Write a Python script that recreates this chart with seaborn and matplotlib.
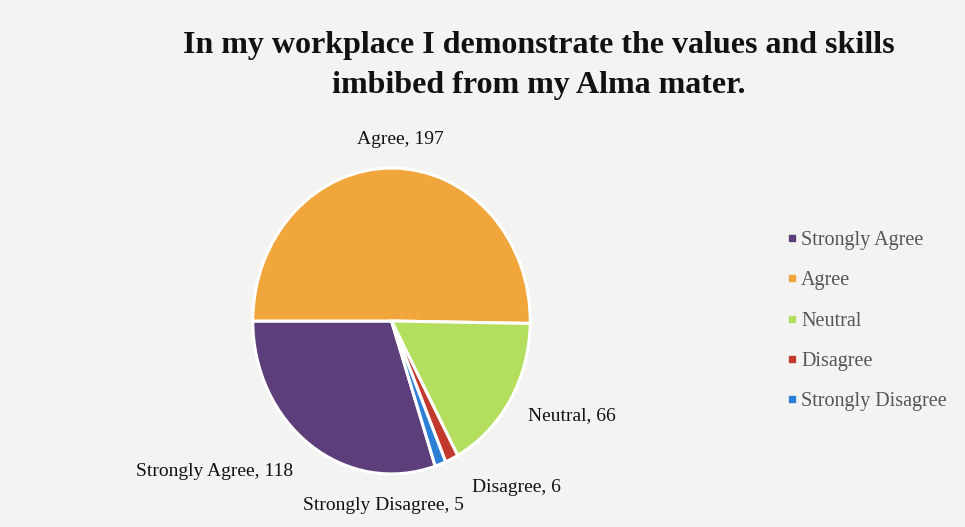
import matplotlib
matplotlib.use("Agg")
import matplotlib.pyplot as plt
import seaborn as sns
from matplotlib.lines import Line2D

categories = ["Strongly Agree", "Agree", "Neutral", "Disagree", "Strongly Disagree"]
counts = [118, 197, 66, 6, 5]
slice_colors = ["#5c3f7a", "#f1a63c", "#b4de5e", "#c23a2e", "#2b7fd6"]
title = "In my workplace I demonstrate the values and skills\nimbibed from my Alma mater."

sns.set_theme(style="white")
plt.rcParams["font.family"] = ["Liberation Serif", "DejaVu Serif"]

W, H = 965, 527
fig = plt.figure(figsize=(W / 100, H / 100), dpi=100)
fig.patch.set_facecolor("#f3f3f1")

palette = sns.color_palette(slice_colors)

# pie sits in its own axes; aspect left free so it is drawn slightly taller than wide
ax = fig.add_axes([250 / W, (H - 477) / H, 283 / W, 312 / H])
ax.set_facecolor("none")
total = sum(counts)
start = 180 + 360 * counts[0] / total
wedges, _ = ax.pie(counts, colors=palette, startangle=start, counterclock=False,
                   wedgeprops=dict(edgecolor="white", linewidth=2.2))
ax.set_aspect("auto")
ax.set_xlim(-1.02, 1.02)
ax.set_ylim(-1.02, 1.02)
ax.axis("off")

# data labels
label_pos = {
    "Agree": (400, 140, "center"),
    "Neutral": (572, 416, "center"),
    "Disagree": (516, 487, "center"),
    "Strongly Disagree": (383, 506, "center"),
    "Strongly Agree": (215, 472, "center"),
}
for cat, val in zip(categories, counts):
    x, y, ha = label_pos[cat]
    fig.text(x / W, 1 - y / H, f"{cat}, {val}", ha=ha, va="center",
             fontsize=14, color="#111111")

fig.text(539 / W, 1 - 66 / H, title, ha="center", va="center", fontsize=23,
         fontweight="bold", color="#111111", linespacing=1.5)

handles = [Line2D([0], [0], marker="s", linestyle="none", markersize=4,
                  markerfacecolor=c, markeredgecolor=c) for c in palette]
leg = fig.legend(handles, categories, loc="upper left",
                 bbox_to_anchor=(768 / W, 1 - 213 / H), frameon=False,
                 fontsize=14.5, labelspacing=1.05, handletextpad=0.15,
                 handlelength=0.6)
for t in leg.get_texts():
    t.set_color("#555555")

fig.savefig("out.png", dpi=100, facecolor=fig.get_facecolor())
